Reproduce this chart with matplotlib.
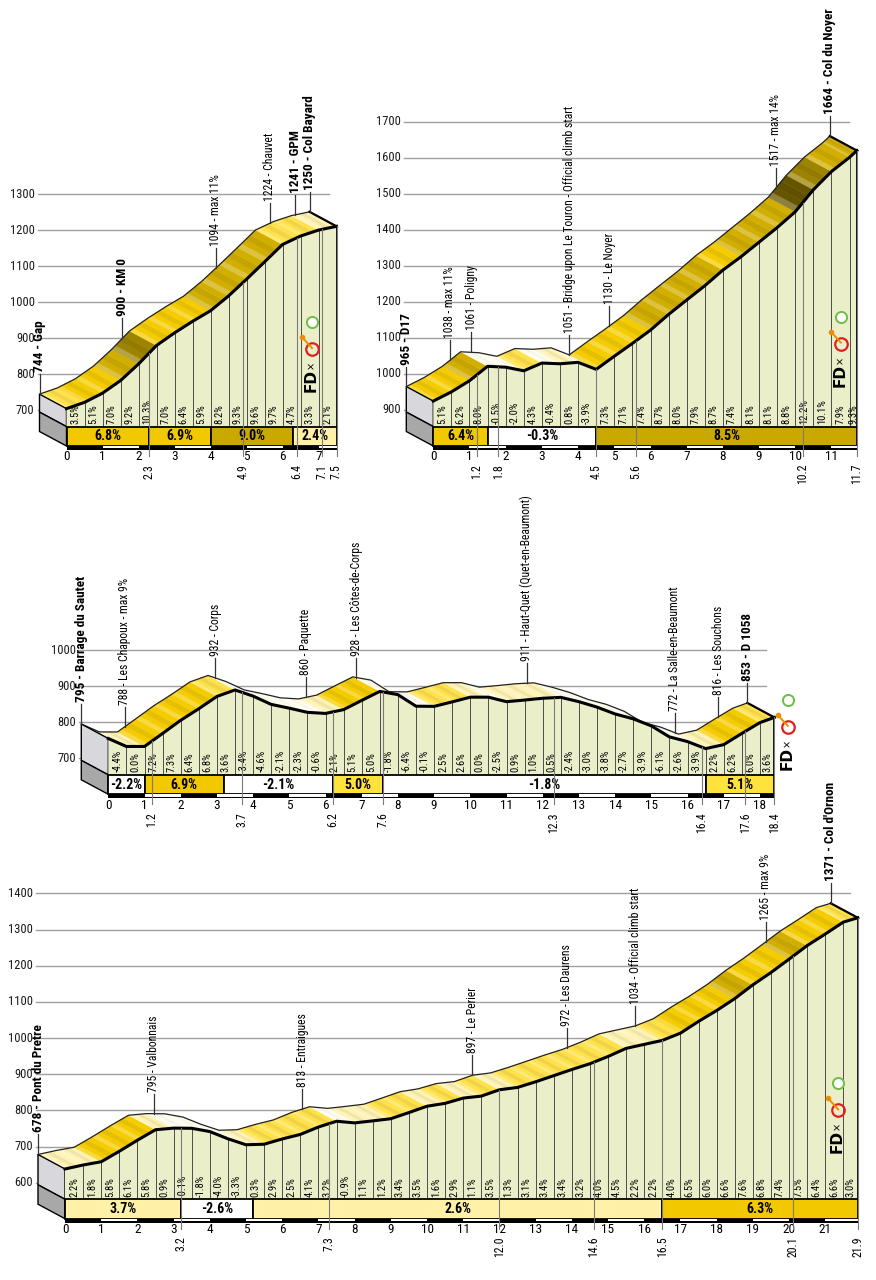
import numpy as np
import matplotlib
matplotlib.use("Agg")
import matplotlib.pyplot as plt
from matplotlib import font_manager
from matplotlib.patches import Polygon, Rectangle
from matplotlib.colors import to_rgb

# on cherche une police etroite
polices = font_manager.fontManager.ttflist
noms = {f.name for f in polices}
if "Liberation Sans Narrow" in noms:
    plt.rcParams["font.family"] = ["Liberation Sans Narrow", "DejaVu Sans"]
elif "Roboto Condensed" in noms:
    plt.rcParams["font.family"] = ["Roboto Condensed", "DejaVu Sans"]
elif any(f.name == "DejaVu Sans" and "condensed" in str(f.stretch) for f in polices):
    plt.rcParams["font.family"] = ["DejaVu Sans"]
    plt.rcParams["font.stretch"] = "condensed"
else:
    plt.rcParams["font.family"] = ["Liberation Sans", "DejaVu Sans"]

# ---------------- donnees ----------------
# 1 : Gap -> Col Bayard
gap_depart = 744
gap_total = 7.5
gap_pentes = [3.5, 5.1, 7.0, 9.2, 10.3, 7.0, 6.4, 5.9, 8.2, 9.3, 9.6, 9.7, 4.7, 3.3, 2.1]
gap_bornes = [0, 2.3, 4.0, 6.3, 7.5]
gap_moyennes = [6.8, 6.9, 9.0, 2.4]
gap_poi_km = [0, 2.3, 4.9, 6.4, 7.1, 7.5]
gap_poi_txt = ["744 - Gap", "900 - KM 0", "1094 - max 11%", "1224 - Chauvet",
               "1241 - GPM", "1250 - Col Bayard"]
gap_poi_gras = [1, 1, 0, 0, 1, 1]
gap_yticks = [700, 800, 900, 1000, 1100, 1200, 1300]

# 2 : D17 -> Col du Noyer
noyer_depart = 965
noyer_total = 11.7
noyer_pentes = [5.1, 6.2, 8.0, -0.5, -2.0, 4.3, -0.4, 0.8, -3.9, 7.3, 7.1, 7.4,
                8.7, 8.0, 7.9, 8.7, 7.4, 8.1, 8.1, 8.8, 12.2, 10.1, 7.9, 9.3]
noyer_bornes = [0, 1.5, 4.5, 11.7]
noyer_moyennes = [6.4, -0.3, 8.5]
noyer_poi_km = [0, 1.2, 1.8, 4.5, 5.6, 10.2, 11.7]
noyer_poi_txt = ["965 - D17", "1038 - max 11%", "1061 - Poligny",
                 "1051 - Bridge upon Le Touron - Official climb start",
                 "1130 - Le Noyer", "1517 - max 14%", "1664 - Col du Noyer"]
noyer_poi_gras = [1, 0, 0, 0, 0, 0, 1]
noyer_yticks = [900, 1000, 1100, 1200, 1300, 1400, 1500, 1600, 1700]

# 3 : Barrage du Sautet -> D 1058
sautet_depart = 795
sautet_total = 18.4
sautet_pentes = [-4.4, 0.0, 7.2, 7.3, 6.4, 6.8, 3.6, -3.4, -4.6, -2.1, -2.3, -0.6,
                 2.1, 5.1, 5.0, -1.8, -6.4, -0.1, 2.5, 2.6, 0.0, -2.5, 0.9, 1.0,
                 0.5, -2.4, -3.0, -3.8, -2.7, -3.9, -6.1, -2.6, -3.9, 2.2, 6.2, 6.0, 3.6]
sautet_bornes = [0, 1.0, 3.2, 6.2, 7.6, 16.5, 18.4]
sautet_moyennes = [-2.2, 6.9, -2.1, 5.0, -1.8, 5.1]
sautet_poi_km = [0, 1.2, 3.7, 6.2, 7.6, 12.3, 16.4, 17.6, 18.4]
sautet_poi_txt = ["795 - Barrage du Sautet", "788 - Les Chapoux - max 9%", "932 - Corps",
                  "860 - Paquette", "928 - Les Côtes-de-Corps",
                  "911 - Haut-Quet (Quet-en-Beaumont)", "772 - La Salle-en-Beaumont",
                  "816 - Les Souchons", "853 - D 1058"]
sautet_poi_gras = [1, 0, 0, 0, 0, 0, 0, 0, 1]
sautet_yticks = [700, 800, 900, 1000]

# 4 : Pont du Pretre -> Col d'Ornon
ornon_depart = 678
ornon_total = 21.9
ornon_pentes = [2.2, 1.8, 5.8, 6.1, 5.8, 0.9, -0.1, -1.8, -4.0, -3.3, 0.3, 2.9, 2.5,
                4.1, 3.2, -0.9, 1.1, 1.2, 3.4, 3.5, 1.6, 2.9, 1.1, 3.5, 1.3, 3.1, 3.4,
                3.4, 3.2, 4.0, 4.5, 2.2, 2.2, 4.0, 6.5, 6.0, 6.6, 7.6, 6.8, 7.4, 7.5,
                6.4, 6.6, 3.0]
ornon_bornes = [0, 3.2, 5.2, 16.5, 21.9]
ornon_moyennes = [3.7, -2.6, 2.6, 6.3]
ornon_poi_km = [0, 3.2, 7.3, 12.0, 14.6, 16.5, 20.1, 21.9]
ornon_poi_txt = ["678 - Pont du Pretre", "795 - Valbonnais", "813 - Entraigues",
                 "897 - Le Perier", "972 - Les Daurens", "1034 - Official climb start",
                 "1265 - max 9%", "1371 - Col d'Ornon"]
ornon_poi_gras = [1, 0, 0, 0, 0, 0, 0, 1]
ornon_yticks = [600, 700, 800, 900, 1000, 1100, 1200, 1300, 1400]

# tailles de texte
T_POI = 8.4
T_POI_G = 9.5
T_PCT = 7.6
T_CASE = 10
T_Y = 9
T_X = 9.5
T_MARQ = 8.5


def couleur_ruban(g):
    if g < 0:
        return "#FFFDF0"
    if g < 2.5:
        return "#FFF3B4"
    if g < 5:
        return "#FFE24A"
    if g < 7.5:
        return "#F5CC00"
    if g < 10:
        return "#D2AE00"
    if g < 12:
        return "#9C8300"
    return "#665500"


def couleur_case(a):
    if a < 0:
        return "white"
    if a < 4:
        return "#FFF2A8"
    if a < 6:
        return "#FFE23C"
    if a < 8:
        return "#F2C800"
    return "#C9A800"


def nuance(c, f):
    r = np.array(to_rgb(c))
    if f >= 1:
        return tuple(r + (1 - r) * (f - 1))
    return tuple(r * f)


def logo(ax, km, alt, sx, sy):
    kx = lambda p: p / sx
    my = lambda p: p / sy
    ax.text(km, alt, "FD", rotation=90, fontsize=11, fontweight="bold",
            ha="center", va="bottom", family="DejaVu Sans", zorder=12)
    ax.text(km, alt + my(27), "×", rotation=90, fontsize=7, ha="center",
            va="center", family="DejaVu Sans", zorder=12)
    ax.plot(km + kx(1), alt + my(43), marker="o", ms=9, mfc="none",
            mec="#E02020", mew=1.6, zorder=12)
    ax.plot([km - kx(9), km + kx(1)], [alt + my(55), alt + my(44)],
            color="#F08C00", lw=1.4, zorder=12)
    ax.plot(km - kx(9), alt + my(55), "o", ms=3, color="#F08C00", zorder=12)
    ax.plot(km + kx(1), alt + my(70), marker="o", ms=8, mfc="white",
            mec="#6DBE45", mew=1.4, zorder=12)


def trace(ax, depart, total, pentes, bornes, moyennes, poi_km, poi_txt,
          poi_gras, yticks, sx, sy):
    kx = lambda p: p / sx
    my = lambda p: p / sy
    n = len(pentes)
    x = np.minimum(np.arange(n + 1) * 0.5, total)
    e = depart + np.concatenate([[0], np.cumsum(np.array(pentes) * np.diff(x) * 10)])
    DX, DY = kx(27), my(14.5)
    fond = yticks[0] - my(16.6)
    bas = yticks[0] - my(36)

    # grille
    for t in yticks:
        ax.plot([-DX - kx(2), total - kx(8)], [t, t], color="#A0A0A0", lw=1, zorder=1)
        ax.text(-DX - kx(5), t, str(t), ha="right", va="center", fontsize=T_Y,
                color="#1A1A1A", zorder=2)

    # ruban du dessus (3d)
    frac = [0, 0.22, 0.45, 0.72, 1.0]
    for i in range(n):
        c = couleur_ruban(pentes[i])
        fac = [1.25, 1.0, 0.94, 1.0] if pentes[i] >= 0 else [1.0, 1.0, 0.97, 1.0]
        for j in range(4):
            xa = x[i] + frac[j] * (x[i + 1] - x[i])
            xb = x[i] + frac[j + 1] * (x[i + 1] - x[i])
            ea = np.interp(xa, x, e)
            eb = np.interp(xb, x, e)
            col = nuance(c, fac[j])
            ax.add_patch(Polygon([(xa, ea - DY), (xb, eb - DY), (xb - DX, eb), (xa - DX, ea)],
                                 closed=True, fc=col, ec=col, lw=0.3, zorder=3))
    ax.plot(x - DX, e, color="#222222", lw=0.9, zorder=4)
    ax.plot([total - DX, total], [e[-1], e[-1] - DY], color="black", lw=1.6, zorder=4)

    # cote gauche
    ax.add_patch(Polygon([(-DX, e[0]), (0, e[0] - DY), (0, fond), (-DX, fond + DY)],
                         closed=True, fc="#D8D8DC", ec="black", lw=1, zorder=5))
    ax.add_patch(Polygon([(-DX, fond + DY), (0, fond), (0, bas), (-DX, bas + DY)],
                         closed=True, fc="#A8A8A8", ec="black", lw=1, zorder=5))

    # face avant
    face = list(zip(x, e - DY)) + [(total, fond), (0, fond)]
    ax.add_patch(Polygon(face, closed=True, fc="#EAEFCA", ec="none", zorder=5))
    for i in range(1, n):
        ax.plot([x[i], x[i]], [e[i] - DY, fond], color="#4D4D4D", lw=0.7, zorder=6)
    ax.plot([total, total], [e[-1] - DY, fond], color="black", lw=1.3, zorder=6)
    ax.plot(x, e - DY, color="black", lw=2.2, solid_joinstyle="round", zorder=7)
    for i in range(n):
        ax.text((x[i] + x[i + 1]) / 2, fond + my(2.5), f"{pentes[i]:.1f}%", rotation=90,
                ha="center", va="bottom", fontsize=T_PCT, zorder=7)

    # cases des moyennes
    for k in range(len(moyennes)):
        ax.add_patch(Rectangle((bornes[k], bas), bornes[k + 1] - bornes[k], fond - bas,
                               fc=couleur_case(moyennes[k]), ec="black", lw=1.3, zorder=6))
        ax.text((bornes[k] + bornes[k + 1]) / 2, (fond + bas) / 2, f"{moyennes[k]:.1f}%",
                ha="center", va="center", fontsize=T_CASE, fontweight="bold", zorder=7)

    # regle kilometrique
    ax.add_patch(Rectangle((0, bas - my(4)), total, my(4), fc="black", ec="none", zorder=6))
    for k in range(1, int(total) + 1, 2):
        ax.add_patch(Rectangle((k, bas - my(2.4)), min(1, total - k), my(2.4),
                               fc="white", ec="none", zorder=7))
    for k in range(int(total) + 1):
        ax.text(k, bas - my(4.5), str(k), ha="center", va="top", fontsize=T_X, zorder=7)

    # points remarquables
    for km, txt, gras in zip(poi_km, poi_txt, poi_gras):
        eb = np.interp(km, x, e)
        ax.plot([km - DX, km - DX], [eb, eb + my(20)], color="#333333", lw=0.9, zorder=9)
        ax.text(km - DX, eb + my(22), txt, rotation=90, ha="center", va="bottom",
                fontsize=T_POI_G if gras else T_POI,
                fontweight="bold" if gras else "normal", zorder=9)
        if km > 0:
            ax.plot([km, km], [eb - DY, bas - my(10)], color="#7A7A7A", lw=0.8, zorder=8)
            ax.text(km, bas - my(18), f"{km:.1f}", rotation=90, ha="center", va="top",
                    fontsize=T_MARQ, zorder=8)


W, H = 876, 1280
fig = plt.figure(figsize=(W / 100, H / 100), dpi=100)
fig.patch.set_facecolor("white")

# position de chaque profil : x du km 0, px/km, y (px depuis le haut) d'une altitude, px/m, logo
panneaux = [
    (gap_depart, gap_total, gap_pentes, gap_bornes, gap_moyennes, gap_poi_km, gap_poi_txt,
     gap_poi_gras, gap_yticks, 66.5, 36.0, 410, 700, 0.36, (6.79, 750)),
    (noyer_depart, noyer_total, noyer_pentes, noyer_bornes, noyer_moyennes, noyer_poi_km,
     noyer_poi_txt, noyer_poi_gras, noyer_yticks, 433.3, 36.2, 410, 900, 0.3604, (11.23, 965)),
    (sautet_depart, sautet_total, sautet_pentes, sautet_bornes, sautet_moyennes,
     sautet_poi_km, sautet_poi_txt, sautet_poi_gras, sautet_yticks, 108.3, 36.2, 758.3,
     700, 0.361, (18.74, 668)),
    (ornon_depart, ornon_total, ornon_pentes, ornon_bornes, ornon_moyennes, ornon_poi_km,
     ornon_poi_txt, ornon_poi_gras, ornon_yticks, 65, 36.2, 1182.7, 600, 0.3617, (21.33, 681)),
]

for p in panneaux:
    (depart, total, pentes, bornes, moyennes, pkm, ptxt, pgras, yt,
     x0, sx, yref, eref, sy, lg) = p
    ax = fig.add_axes([0, 0, 1, 1])
    ax.set_xlim(-x0 / sx, (W - x0) / sx)
    ax.set_ylim(eref - (H - yref) / sy, eref + yref / sy)
    ax.axis("off")
    trace(ax, depart, total, pentes, bornes, moyennes, pkm, ptxt, pgras, yt, sx, sy)
    logo(ax, lg[0], lg[1], sx, sy)

fig.savefig("out.png", dpi=100, facecolor="white")
